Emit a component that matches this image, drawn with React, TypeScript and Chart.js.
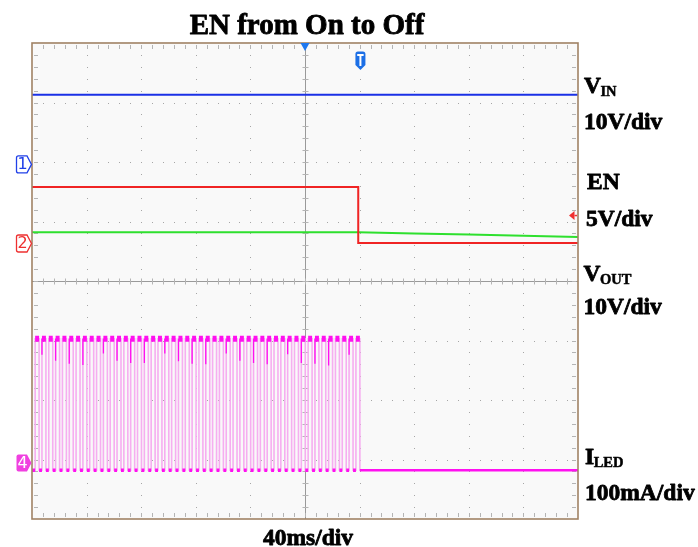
import React, { useEffect, useRef } from 'react';
import { Chart, registerables } from 'chart.js';

Chart.register(...registerables);

// ---- data (time in ms, 40 ms/div; vertical in screen divisions 0..8) ----
const timeRangeMs = [0, 400];
const divRange = [0, 8];

const vinTimes = [0, 400];
const vinLevels = [7.13, 7.13];

const enTimes = [0, 239, 239, 400];
const enLevels = [5.58, 5.58, 4.64, 4.64];

const voutTimes = [0, 239, 280, 320, 360, 400];
const voutLevels = [4.82, 4.82, 4.8, 4.78, 4.76, 4.74];

const iledPulseStarts = [
  2.3, 7.3, 12.3, 17.3, 22.3, 27.3, 32.3, 37.3, 42.3, 47.3,
  52.3, 57.3, 62.3, 67.3, 72.3, 77.3, 82.3, 87.3, 92.3, 97.3,
  102.3, 107.3, 112.3, 117.3, 122.3, 127.3, 132.3, 137.3, 142.3, 147.3,
  152.3, 157.3, 162.3, 167.3, 172.3, 177.3, 182.3, 187.3, 192.3, 197.3,
  202.3, 207.3, 212.3, 217.3, 222.3, 227.3, 232.3, 237.3,
];
const iledPulseWidthMs = 2.9;
const iledHighLevel = 3.03;
const iledLowLevel = 0.82;
const iledEndMs = 400;

const iledSpikeTimes = [7.3, 17.3, 27.3, 37.3, 52.3, 62.3, 72.3, 82.3, 97.3, 107.3, 117.3,
  127.3, 142.3, 152.3, 162.3, 172.3, 187.3, 197.3, 207.3, 217.3, 232.3];
const iledSpikeLevels = [2.76, 2.66, 2.61, 2.59, 2.78, 2.66, 2.62, 2.62, 2.78, 2.65, 2.61,
  2.6, 2.78, 2.66, 2.62, 2.6, 2.77, 2.62, 2.61, 2.58, 2.76];

const markerLabels = ['1', '2', '4'];
const markerLevels = [5.96, 4.63, 0.94];
const triggerLevel = 5.1;
const triggerPositionMs = 200;
const triggerTimeMs = 240.6;

const titleText = 'EN from On to Off';
const xAxisText = '40ms/div';
const labelNames = ['V', 'EN', 'V', 'I'];
const labelSubs = ['IN', '', 'OUT', 'LED'];
const labelScales = ['10V/div', '5V/div', '10V/div', '100mA/div'];

// ---- styles ----
const C_VIN = '#1a30e6';
const C_EN = '#f02424';
const C_VOUT = '#2ee02e';
const C_ILED = '#ff10f0';
const C_ILED_EDGE = '#f6aef0';
const C_BORDER = '#a08264';
const C_GRID = '#a6a6a6';
const markerColors = ['#2040e8', '#ee3030', '#f040e0'];
const markerFilled = [false, false, true];
const FONT = '"Liberation Serif", "Times New Roman", serif';

type Pt = { x: number; y: number | null };
const zip = (xs: number[], ys: number[]) => xs.map((x, i) => ({ x, y: ys[i] }));

function buildIledWave() {
  const pts: Pt[] = [{ x: timeRangeMs[0], y: iledLowLevel }];
  iledPulseStarts.forEach((s) => {
    pts.push({ x: s, y: iledLowLevel });
    pts.push({ x: s, y: iledHighLevel });
    pts.push({ x: s + iledPulseWidthMs, y: iledHighLevel });
    pts.push({ x: s + iledPulseWidthMs, y: iledLowLevel });
  });
  pts.push({ x: iledEndMs, y: iledLowLevel });
  return pts;
}

function buildIledHigh() {
  const pts: Pt[] = [];
  iledPulseStarts.forEach((s) => {
    pts.push({ x: s, y: iledHighLevel });
    pts.push({ x: s + iledPulseWidthMs, y: iledHighLevel });
    pts.push({ x: s + iledPulseWidthMs + 0.01, y: null });
  });
  return pts;
}

function buildIledLow() {
  const pts: Pt[] = [];
  let prev = timeRangeMs[0];
  iledPulseStarts.forEach((s) => {
    pts.push({ x: prev, y: iledLowLevel });
    pts.push({ x: s, y: iledLowLevel });
    pts.push({ x: s + 0.01, y: null });
    prev = s + iledPulseWidthMs;
  });
  return pts;
}

function buildIledTail() {
  const last = iledPulseStarts[iledPulseStarts.length - 1] + iledPulseWidthMs;
  return [{ x: last, y: iledLowLevel }, { x: iledEndMs, y: iledLowLevel }];
}

function buildSpikes() {
  const pts: Pt[] = [];
  iledSpikeTimes.forEach((t, i) => {
    pts.push({ x: t, y: iledHighLevel });
    pts.push({ x: t, y: iledSpikeLevels[i] });
    pts.push({ x: t + 0.01, y: null });
  });
  return pts;
}

function boldText(ctx: CanvasRenderingContext2D, s: string, x: number, y: number) {
  ctx.fillText(s, x, y);
  ctx.strokeText(s, x, y);
}

const scopePlugin = {
  id: 'scope',
  beforeDatasetsDraw(chart: any) {
    const { ctx, chartArea: a, scales } = chart;
    const xs = scales.x;
    const ys = scales.y;
    ctx.save();
    ctx.fillStyle = '#f9f9f9';
    ctx.fillRect(a.left, a.top, a.right - a.left, a.bottom - a.top);

    // dotted grid
    ctx.fillStyle = C_GRID;
    for (let i = 1; i < 10; i++) {
      if (i === 5) continue;
      const x = Math.round(xs.getPixelForValue(i * 40));
      for (let m = 1; m < 40; m++) {
        const y = Math.round(ys.getPixelForValue(m * 0.2));
        ctx.fillRect(x, y, 1, 1);
      }
    }
    for (let j = 1; j < 8; j++) {
      if (j === 4) continue;
      const y = Math.round(ys.getPixelForValue(j));
      for (let m = 1; m < 50; m++) {
        const x = Math.round(xs.getPixelForValue(m * 8));
        ctx.fillRect(x, y, 1, 1);
      }
    }

    // center cross
    const cx = Math.round(xs.getPixelForValue(200)) + 0.5;
    const cy = Math.round(ys.getPixelForValue(4)) + 0.5;
    ctx.strokeStyle = '#9a9a9a';
    ctx.lineWidth = 1;
    ctx.beginPath();
    ctx.moveTo(cx, a.top);
    ctx.lineTo(cx, a.bottom);
    ctx.moveTo(a.left, cy);
    ctx.lineTo(a.right, cy);
    ctx.stroke();
    ctx.strokeStyle = '#b4b4b4';
    ctx.beginPath();
    for (let m = 1; m < 50; m++) {
      const x = Math.round(xs.getPixelForValue(m * 8)) + 0.5;
      ctx.moveTo(x, cy - 3);
      ctx.lineTo(x, cy + 3);
      ctx.moveTo(x, a.top + 2);
      ctx.lineTo(x, a.top + 6);
      ctx.moveTo(x, a.bottom - 2);
      ctx.lineTo(x, a.bottom - 6);
    }
    for (let m = 1; m < 40; m++) {
      const y = Math.round(ys.getPixelForValue(m * 0.2)) + 0.5;
      ctx.moveTo(cx - 3, y);
      ctx.lineTo(cx + 3, y);
      ctx.moveTo(a.left + 2, y);
      ctx.lineTo(a.left + 6, y);
      ctx.moveTo(a.right - 2, y);
      ctx.lineTo(a.right - 6, y);
    }
    ctx.stroke();
    ctx.restore();
  },
  afterDraw(chart: any) {
    const { ctx, chartArea: a, scales } = chart;
    const xs = scales.x;
    const ys = scales.y;
    ctx.save();

    // border
    ctx.strokeStyle = C_BORDER;
    ctx.lineWidth = 1.6;
    ctx.strokeRect(a.left, a.top, a.right - a.left, a.bottom - a.top);

    // trigger position (top)
    const tpx = xs.getPixelForValue(triggerPositionMs);
    ctx.fillStyle = '#1e78f0';
    ctx.beginPath();
    ctx.moveTo(tpx - 4.5, a.top);
    ctx.lineTo(tpx + 4.5, a.top);
    ctx.lineTo(tpx, a.top + 8);
    ctx.closePath();
    ctx.fill();

    // T marker
    const tx = xs.getPixelForValue(triggerTimeMs);
    ctx.fillStyle = '#1c6fe6';
    ctx.beginPath();
    ctx.moveTo(tx - 5, a.top + 11);
    ctx.quadraticCurveTo(tx - 5, a.top + 8.5, tx - 2.5, a.top + 8.5);
    ctx.lineTo(tx + 2.5, a.top + 8.5);
    ctx.quadraticCurveTo(tx + 5, a.top + 8.5, tx + 5, a.top + 11);
    ctx.lineTo(tx + 5, a.top + 22);
    ctx.lineTo(tx, a.top + 27);
    ctx.lineTo(tx - 5, a.top + 22);
    ctx.closePath();
    ctx.fill();
    ctx.fillStyle = '#ffffff';
    ctx.fillRect(tx - 3.2, a.top + 11, 6.4, 2);
    ctx.fillRect(tx - 1, a.top + 11, 2, 12);

    // trigger level (right)
    const ty = ys.getPixelForValue(triggerLevel);
    ctx.fillStyle = '#f03030';
    ctx.beginPath();
    ctx.moveTo(a.right - 9, ty);
    ctx.lineTo(a.right - 3.5, ty - 4.5);
    ctx.lineTo(a.right - 3.5, ty + 4.5);
    ctx.closePath();
    ctx.fill();
    ctx.fillRect(a.right - 3.5, ty - 0.75, 2.5, 1.5);

    // channel markers
    markerLabels.forEach((lab, i) => {
      const y = ys.getPixelForValue(markerLevels[i]);
      const col = markerColors[i];
      const x0 = 16.5;
      const tip = a.left - 0.5;
      ctx.beginPath();
      ctx.moveTo(x0 + 2, y - 8.5);
      ctx.lineTo(tip - 4.5, y - 8.5);
      ctx.lineTo(tip, y);
      ctx.lineTo(tip - 4.5, y + 8.5);
      ctx.lineTo(x0 + 2, y + 8.5);
      ctx.quadraticCurveTo(x0, y + 8.5, x0, y + 6.5);
      ctx.lineTo(x0, y - 6.5);
      ctx.quadraticCurveTo(x0, y - 8.5, x0 + 2, y - 8.5);
      ctx.closePath();
      if (markerFilled[i]) {
        ctx.fillStyle = col;
        ctx.fill();
      } else {
        ctx.fillStyle = '#ffffff';
        ctx.fill();
        ctx.strokeStyle = col;
        ctx.lineWidth = 1.3;
        ctx.stroke();
      }
      ctx.fillStyle = markerFilled[i] ? '#ffffff' : col;
      ctx.font = '16px "DejaVu Sans", sans-serif';
      ctx.textAlign = 'center';
      ctx.textBaseline = 'middle';
      ctx.fillText(lab, (x0 + tip - 3) / 2, y + 0.5);
    });

    // texts
    ctx.fillStyle = '#000000';
    ctx.strokeStyle = '#000000';
    ctx.lineWidth = 0.8;
    ctx.lineJoin = 'round';
    ctx.textBaseline = 'alphabetic';
    ctx.textAlign = 'center';
    ctx.font = `bold 29px ${FONT}`;
    boldText(ctx, titleText, 307, 34);
    ctx.font = `bold 23.5px ${FONT}`;
    boldText(ctx, xAxisText, 308, 545);

    ctx.textAlign = 'left';
    const nameX = [584, 587, 583.5, 585];
    const nameY = [93, 189, 280.5, 463.5];
    const scaleX = [584, 586, 583.5, 585];
    const scaleY = [129, 226, 314, 499.5];
    labelNames.forEach((n, i) => {
      ctx.font = `bold 23.5px ${FONT}`;
      ctx.lineWidth = 0.8;
      boldText(ctx, n, nameX[i], nameY[i]);
      const w = ctx.measureText(n).width;
      if (labelSubs[i]) {
        ctx.font = `bold 14.5px ${FONT}`;
        ctx.lineWidth = 0.5;
        boldText(ctx, labelSubs[i], nameX[i] + w - 0.5, nameY[i] + 3);
      }
      ctx.font = `bold 23.5px ${FONT}`;
      ctx.lineWidth = 0.8;
      boldText(ctx, labelScales[i], scaleX[i], scaleY[i]);
    });
    ctx.restore();
  },
};

export default function App() {
  const ref = useRef<HTMLCanvasElement>(null);
  useEffect(() => {
    if (!ref.current) return;
    const line = (label: string, data: Pt[], color: string, width: number) => ({
      label,
      data,
      borderColor: color,
      borderWidth: width,
      pointRadius: 0,
      spanGaps: false,
      borderCapStyle: 'butt',
    });
    // Chart.js paints dataset 0 last (on top), so list top-most first.
    const chart = new Chart(ref.current, {
      type: 'line',
      data: {
        datasets: [
          line('VIN', zip(vinTimes, vinLevels), C_VIN, 2),
          line('EN', zip(enTimes, enLevels), C_EN, 2),
          line('VOUT', zip(voutTimes, voutLevels), C_VOUT, 2),
          line('ILED off', buildIledTail(), C_ILED, 2.5),
          line('ILED spikes', buildSpikes(), C_ILED, 1.3),
          line('ILED low', buildIledLow(), C_ILED, 3.5),
          line('ILED high', buildIledHigh(), C_ILED, 6),
          line('ILED edges', buildIledWave(), C_ILED_EDGE, 1.6),
        ] as any,
      },
      options: {
        responsive: false,
        maintainAspectRatio: false,
        animation: false,
        devicePixelRatio: 1,
        layout: { padding: { left: 32, right: 120, top: 43, bottom: 28 } },
        plugins: { legend: { display: false }, tooltip: { enabled: false }, title: { display: false } },
        events: [],
        scales: {
          x: { type: 'linear', min: timeRangeMs[0], max: timeRangeMs[1], display: false },
          y: { type: 'linear', min: divRange[0], max: divRange[1], display: false },
        },
      },
      plugins: [scopePlugin],
    });
    return () => chart.destroy();
  }, []);
  return (
    <div style={{ position: 'absolute', left: 0, top: 0, width: 698, height: 547, background: '#ffffff' }}>
      <canvas ref={ref} width={698} height={547} style={{ display: 'block' }} />
    </div>
  );
}
